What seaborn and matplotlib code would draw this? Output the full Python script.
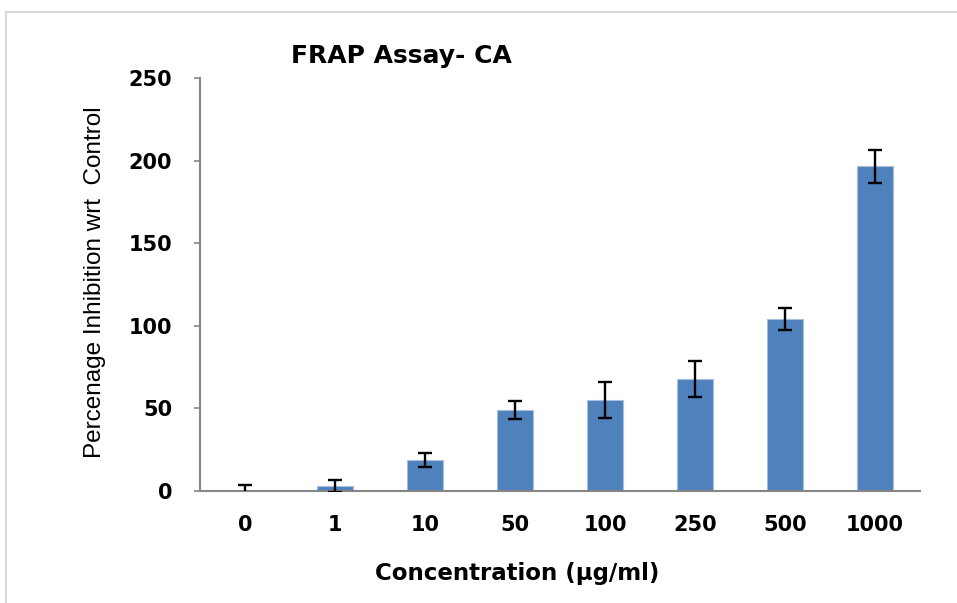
import numpy as np
import pandas as pd
import matplotlib
matplotlib.use("Agg")
import matplotlib.pyplot as plt
from matplotlib import font_manager
from matplotlib.lines import Line2D
import seaborn as sns

# data
concentrations = ["0", "1", "10", "50", "100", "250", "500", "1000"]
inhibition = [0.0, 3.0, 19.0, 49.0, 55.0, 67.8, 104.0, 196.5]
inhibition_err = [3.6, 3.7, 4.2, 5.4, 10.8, 10.9, 6.5, 9.8]
y_ticks = [0, 50, 100, 150, 200, 250]

df = pd.DataFrame({"conc": concentrations, "value": inhibition, "err": inhibition_err})

sns.set_style("white")
plt.rcParams["font.family"] = ["DejaVu Sans"]
plt.rcParams["text.color"] = "black"
plt.rcParams["xtick.labelcolor"] = "black"
plt.rcParams["ytick.labelcolor"] = "black"

names = {f.name for f in font_manager.fontManager.ttflist}
if "Liberation Sans Narrow" in names:
    ylab_font, ylab_size = "Liberation Sans Narrow", 21.5
else:
    ylab_font, ylab_size = "Liberation Sans", 17.5

BAR = "#4F81BD"
AXIS = "#868686"

fig = plt.figure(figsize=(9.57, 6.03), dpi=100)
ax = fig.add_axes([200 / 957, 112 / 603, 720 / 957, 413 / 603])

sns.barplot(data=df, x="conc", y="value", order=concentrations, color=BAR,
            width=0.4, edgecolor="#A7BFDE", linewidth=0.8, saturation=1, ax=ax)
xpos = np.arange(len(concentrations))
ax.errorbar(xpos, df["value"], yerr=df["err"], fmt="none", ecolor="black",
            elinewidth=1.7, capsize=4.7, capthick=1.7, zorder=5)

ax.set_ylim(0, 250)
ax.set_xlim(-0.5, len(concentrations) - 0.5)
ax.set_yticks(y_ticks)
ax.set_xlabel("")
ax.set_ylabel("")

for s in ["top", "right"]:
    ax.spines[s].set_visible(False)
for s in ["left", "bottom"]:
    ax.spines[s].set_color(AXIS)
    ax.spines[s].set_linewidth(1.5)

ax.tick_params(axis="y", direction="out", length=4, width=1.2, color=AXIS,
               pad=16, labelsize=15, left=True, labelcolor="black")
ax.tick_params(axis="x", length=0, pad=17, labelsize=15, labelcolor="black")
for lab in ax.get_xticklabels() + ax.get_yticklabels():
    lab.set_fontweight("bold")

fig.text(401 / 957, 1 - 63 / 603, "FRAP Assay- CA", ha="center", va="baseline",
         fontsize=18, fontweight="bold", color="black")
fig.text(517 / 957, 1 - 580 / 603, "Concentration (\u00b5g/ml)", ha="center",
         va="baseline", fontsize=16.5, fontweight="bold", color="black")
fig.text(95 / 957, 1 - 282 / 603, "Percenage Inhibition wrt  Control", rotation=90,
         ha="center", va="center", fontsize=ylab_size, color="black",
         family=[ylab_font, "DejaVu Sans"])

# light chart-area frame, partly cropped in the reference
fig.add_artist(Line2D([6 / 957, 6 / 957], [0, 1 - 12 / 603], transform=fig.transFigure,
                      color="#D9D9D9", lw=1.5))
fig.add_artist(Line2D([6 / 957, 1], [1 - 12 / 603, 1 - 12 / 603], transform=fig.transFigure,
                      color="#D9D9D9", lw=1.5))

fig.savefig("out.png", dpi=100)
